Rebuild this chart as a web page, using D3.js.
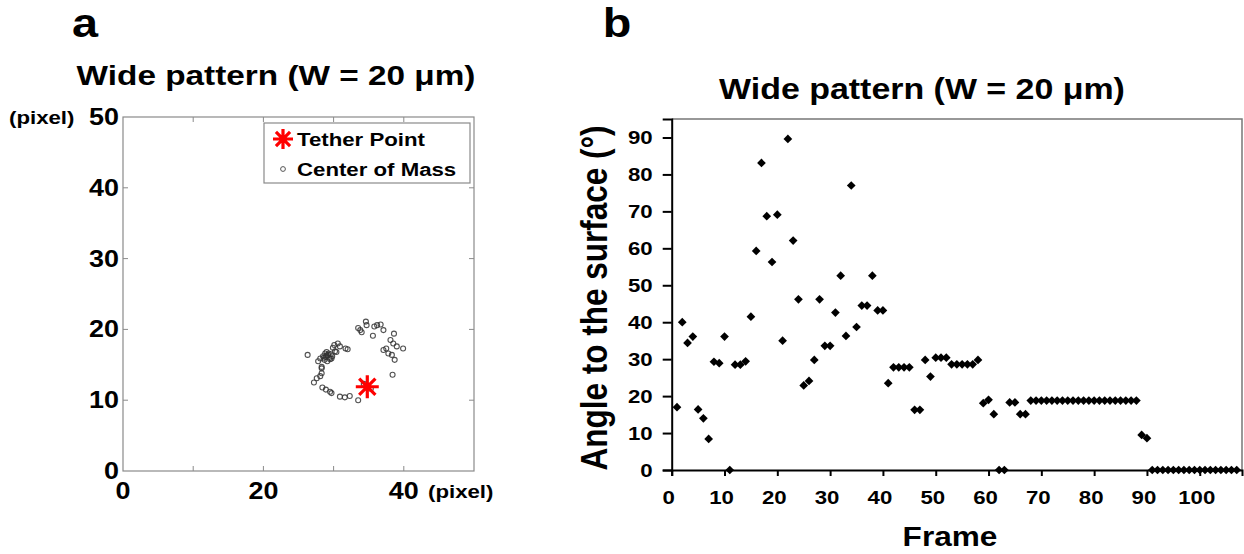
<!DOCTYPE html>
<html>
<head>
<meta charset="utf-8">
<script src="https://cdn.jsdelivr.net/npm/d3@7"></script>
<style>
	body { margin: 0; background: #fff; }
	text { font-family: "Liberation Sans", Arial, sans-serif; font-weight: bold; fill: #000; }
</style>
</head>
<body>
<svg id="chart" width="1244" height="554"></svg>
<script>

/* Panel a data: centre of mass track (pixel) */
let comX = [26.3, 28.1, 28.3, 28.5, 28.8, 29.0, 29.2, 29.4, 29.6, 29.8, 28.7, 29.1, 29.5, 30.1, 30.6, 30.9, 30.4, 31.7, 32.0,
	27.8, 28.3, 28.3, 28.1, 27.6, 27.2, 28.4, 28.9, 29.5, 29.7, 30.9, 31.6, 32.3, 33.5,
	33.5, 34.0, 34.6, 34.7, 35.6, 35.8, 36.2, 36.7, 37.1, 38.6, 38.1, 38.5, 39.9, 39.0,
	37.1, 37.5, 37.8, 38.3, 38.7, 38.4, 35.3, 34.3, 33.8,
	28.9, 29.3, 28.6, 29.0, 29.7, 30.2, 29.9];
let comY = [16.4, 15.9, 14.7, 16.2, 16.6, 16.3, 16.4, 16.0, 16.5, 16.2, 15.7, 15.5, 15.8, 17.8, 18.0, 17.6, 16.8, 17.3, 17.2,
	15.5, 14.5, 13.8, 13.4, 13.1, 12.5, 11.8, 11.5, 11.2, 11.0, 10.5, 10.4, 10.6, 10.0,
	20.2, 19.6, 21.1, 20.6, 19.1, 20.4, 20.6, 20.7, 19.9, 19.4, 18.5, 18.0, 17.3, 17.6,
	17.1, 17.3, 16.6, 16.4, 15.7, 13.6, 11.6, 12.3, 19.9,
	16.1, 16.6, 16.0, 16.8, 15.9, 16.9, 17.4];
let tetherPoint = [34.8, 11.9];
let pixelTicks = [0, 10, 20, 30, 40, 50];
let pixelTickLabels = ["0", "10", "20", "30", "40", "50"];

/* Panel b data: angle to the surface per frame (frame = index + 1) */
let angles = [
	17.0, 40.0, 34.4, 36.1, 16.4, 14.0, 8.4, 29.3, 28.9, 36.1,
	0, 28.5, 28.5, 29.4, 41.5, 59.3, 83.1, 68.7, 56.3, 69.1,
	35.0, 89.6, 62.1, 46.2, 22.9, 24.1, 29.8, 46.2, 33.6, 33.6,
	42.6, 52.6, 36.3, 77.0, 38.7, 44.5, 44.5, 52.6, 43.2, 43.2,
	23.5, 27.8, 27.8, 27.8, 27.8, 16.3, 16.3, 29.8, 25.3, 30.4,
	30.4, 30.4, 28.6, 28.6, 28.6, 28.6, 28.6, 29.8, 18.1, 19.0,
	15.1, 0, 0, 18.3, 18.3, 15.1, 15.1, 18.8, 18.8, 18.8,
	18.8, 18.8, 18.8, 18.8, 18.8, 18.8, 18.8, 18.8, 18.8, 18.8,
	18.8, 18.8, 18.8, 18.8, 18.8, 18.8, 18.8, 18.8, 9.5, 8.6,
	0, 0, 0, 0, 0, 0, 0, 0, 0, 0,
	0, 0, 0, 0, 0, 0, 0];
let angleTicks = [0, 10, 20, 30, 40, 50, 60, 70, 80, 90];
let frameTicks = [0, 10, 20, 30, 40, 50, 60, 70, 80, 90, 100];

let titleText = "Wide pattern (W = 20 \u03bcm)";

// The original figure is stretched sideways, so text is widened to match
let stretch = 1.17;

let svg = d3.select("#chart");

/**
 * Add a piece of widened text
 */
function label(g, str, x, y, size, anchor, rotate) {
	return g.append("text")
		.attr("transform", "translate(" + x + "," + y + ") scale(" + stretch + ",1)" + (rotate ? " rotate(" + rotate + ")" : ""))
		.attr("text-anchor", anchor || "middle")
		.style("font-size", size + "px")
		.text(str);
}

/* ---------- Panel a ---------- */
let ax = d3.scaleLinear().domain([0, 50]).range([123, 474]);
let ay = d3.scaleLinear().domain([0, 50]).range([471, 117]);
let ga = svg.append("g");

label(ga, "a", 85, 37, 40);
label(ga, titleText, 276, 85, 28.5);

// Inward ticks on all four sides
[[ay(0), 1], [ay(50), -1]].forEach(function(s) {
	ga.selectAll(null).data(pixelTicks.slice(1, -1)).enter().append("line")
		.attr("x1", function(d) { return ax(d); })
		.attr("x2", function(d) { return ax(d); })
		.attr("y1", s[0])
		.attr("y2", s[0] - 5 * s[1])
		.attr("stroke", "#8a8a8a");
});
[[ax(0), 1], [ax(50), -1]].forEach(function(s) {
	ga.selectAll(null).data(pixelTicks.slice(1, -1)).enter().append("line")
		.attr("y1", function(d) { return ay(d); })
		.attr("y2", function(d) { return ay(d); })
		.attr("x1", s[0])
		.attr("x2", s[0] + 5 * s[1])
		.attr("stroke", "#8a8a8a");
});

ga.append("rect")
	.attr("x", ax(0)).attr("y", ay(50))
	.attr("width", ax(50) - ax(0)).attr("height", ay(0) - ay(50))
	.attr("fill", "none").attr("stroke", "#8a8a8a").attr("stroke-width", 1.2);

pixelTicks.forEach(function(t, i) {
	label(ga, pixelTickLabels[i], ax(0) - 4, ay(t) + 8, 23, "end");
});
[0, 20, 40].forEach(function(t) {
	label(ga, String(t), ax(t), 499, 23);
});
label(ga, "(pixel)", 9, 124, 19, "start");
label(ga, "(pixel)", 428, 498, 19, "start");

// Centre of mass points
ga.selectAll(".com").data(comX).enter().append("circle")
	.attr("class", "com")
	.attr("cx", function(d) { return ax(d); })
	.attr("cy", function(d, i) { return ay(comY[i]); })
	.attr("r", 2.5)
	.attr("fill", "none")
	.attr("stroke", "#333")
	.attr("stroke-opacity", 0.85)
	.attr("stroke-width", 1.1);

/**
 * Eight-armed asterisk path
 */
function asterisk(r) {
	let d = r * Math.SQRT1_2;
	return "M" + -r + ",0L" + r + ",0M0," + -r + "L0," + r +
		"M" + -d + "," + -d + "L" + d + "," + d + "M" + -d + "," + d + "L" + d + "," + -d;
}

ga.append("path")
	.attr("transform", "translate(" + ax(tetherPoint[0]) + "," + ay(tetherPoint[1]) + ")")
	.attr("d", asterisk(11.5))
	.attr("stroke", "#ff0000")
	.attr("stroke-width", 3.2);

// Legend
let leg = ga.append("g");
leg.append("rect")
	.attr("x", 264).attr("y", 123).attr("width", 206).attr("height", 60)
	.attr("fill", "#fff").attr("stroke", "#8a8a8a").attr("stroke-width", 1.2);
leg.append("path")
	.attr("transform", "translate(283,139)")
	.attr("d", asterisk(10))
	.attr("stroke", "#ff0000")
	.attr("stroke-width", 3.2);
leg.append("circle")
	.attr("cx", 283).attr("cy", 169).attr("r", 2.4)
	.attr("fill", "none").attr("stroke", "#555");
label(leg, "Tether Point", 297, 146, 19, "start");
label(leg, "Center of Mass", 297, 176, 19, "start");

/* ---------- Panel b ---------- */
let bx = d3.scaleLinear().domain([0, 108]).range([671.7, 1242]);
let by = d3.scaleLinear().domain([0, 95]).range([470, 119]);
let gb = svg.append("g");

label(gb, "b", 617, 37, 40);
label(gb, titleText, 922, 99, 29);

// Frame on the top and right
gb.append("path")
	.attr("d", "M" + bx(0) + "," + by(95) + "H" + bx(108) + "V" + by(0))
	.attr("fill", "none").attr("stroke", "#777").attr("stroke-width", 1.5);

let yAxis = d3.axisLeft(by).tickValues(angleTicks).tickSize(9).tickFormat("");
gb.append("g")
	.attr("transform", "translate(" + bx(0) + ",0)")
	.call(yAxis)
	.call(function(g) { g.selectAll("path, line").attr("stroke", "#000").attr("stroke-width", 2); });

let xAxis = d3.axisBottom(bx).tickValues(frameTicks).tickSize(6).tickFormat("");
gb.append("g")
	.attr("transform", "translate(0," + by(0) + ")")
	.call(xAxis)
	.call(function(g) { g.selectAll("path, line").attr("stroke", "#000").attr("stroke-width", 2); });

angleTicks.forEach(function(t) {
	label(gb, String(t), bx(0) - 19, by(t) + 7, 19, "end");
});
frameTicks.forEach(function(t) {
	label(gb, String(t), bx(t) - 3, 504, 19);
});

label(gb, "Frame", 950, 546, 27);
label(gb, "Angle to the surface (\u00b0)", 607, 298, 31.5, "middle", -90);

// Diamonds
let diamond = d3.symbol().type(d3.symbolSquare).size(38);
gb.selectAll(".pt").data(angles).enter().append("path")
	.attr("class", "pt")
	.attr("transform", function(d, i) { return "translate(" + bx(i + 1) + "," + by(d) + ") rotate(45)"; })
	.attr("d", diamond)
	.attr("fill", "#000");

</script>
</body>
</html>
